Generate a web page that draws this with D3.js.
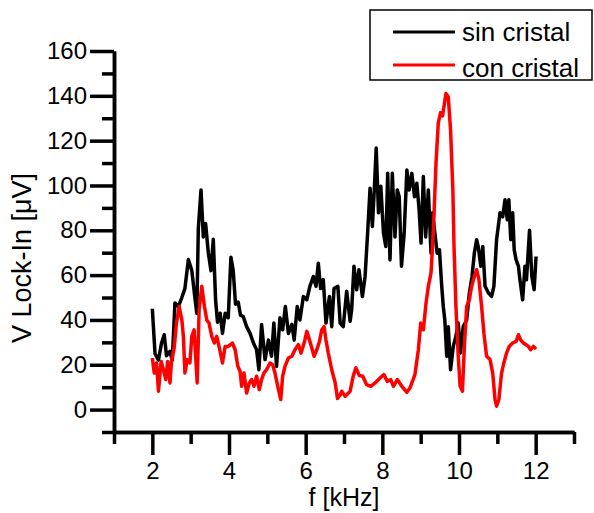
<!DOCTYPE html>
<html>
<head>
<meta charset="utf-8">
<script src="https://cdn.jsdelivr.net/npm/d3@7"></script>
<style>
  html, body { margin: 0; padding: 0; background: #fff; }
  svg { display: block; font-family: "Liberation Sans", Arial, sans-serif; }
</style>
</head>
<body>
<svg id="chart" width="594" height="513"></svg>
<script>
// Lock-in amplitude versus frequency, without and with crystal
const sinF = [2.0,2.07,2.16,2.24,2.31,2.37,2.46,2.52,2.59,2.68,2.77,2.85,2.94,3.03,3.11,3.16,3.2,3.27,3.33,3.39,3.46,3.53,3.59,3.65,3.7,3.77,3.83,3.9,3.98,4.05,4.11,4.17,4.24,4.3,4.37,4.46,4.55,4.64,4.72,4.78,4.85,4.94,5.03,5.11,5.17,5.24,5.33,5.4,5.47,5.55,5.64,5.7,5.78,5.85,5.94,6.03,6.11,6.2,6.27,6.33,6.39,6.46,6.53,6.62,6.68,6.74,6.84,6.9,6.98,7.07,7.16,7.2,7.26,7.33,7.39,7.48,7.55,7.62,7.68,7.74,7.79,7.84,7.9,7.96,8.03,8.09,8.14,8.2,8.26,8.33,8.39,8.44,8.5,8.57,8.64,8.7,8.77,8.84,8.9,8.96,9.01,9.07,9.13,9.2,9.27,9.31,9.37,9.43,9.49,9.55,9.59,9.63,9.68,9.72,9.78,9.85,9.92,9.98,10.04,10.11,10.2,10.27,10.34,10.4,10.46,10.5,10.57,10.62,10.68,10.77,10.85,10.91,10.98,11.07,11.14,11.2,11.26,11.3,11.35,11.4,11.44,11.49,11.55,11.59,11.66,11.72,11.76,11.84,11.9,11.96,12.01];
const sinV = [45,25,22,29.7,33.4,24,26,22,47.6,46,50,54,67,62,50,43,81,98,77,83,70,62,76,49,39,43,34,43,41,68,62,47,48,42,41.6,37,34,29.6,26.7,17.8,38,22.3,31,23.8,38.6,19.3,41,35.6,46,34,38,31,46,40,50.5,49,55,59.4,55,65.3,54,58,38.6,50.5,37,54,55,38.6,37,52.8,39.4,44.6,64,53.5,62.4,50.5,59.4,80,98.8,81.7,98,116.7,87.8,99.7,78.8,72.8,105.4,66.8,105.4,77,98,95,64,78.8,106.9,98,105.4,95,101,89,74.3,104,77,98,69.8,87.8,78.8,69.8,71.3,55,46,40,23.8,37,17.8,28.2,32.7,38.6,25.3,37,40,52,59.4,69.8,75.8,72.8,64,72.8,55,52,50.5,55,75.8,87.8,86,93.6,84.7,93.6,75.8,87.8,71.3,66.8,64,57.9,49,64,57.9,80,59.4,53.5,68.3];

const conF = [2.0,2.05,2.11,2.16,2.23,2.29,2.35,2.4,2.46,2.5,2.57,2.63,2.7,2.77,2.81,2.85,2.91,2.98,3.03,3.09,3.13,3.17,3.22,3.29,3.36,3.42,3.48,3.55,3.62,3.68,3.74,3.83,3.9,3.98,4.09,4.16,4.23,4.29,4.33,4.39,4.46,4.53,4.59,4.65,4.72,4.79,4.85,4.91,4.98,5.07,5.14,5.2,5.29,5.35,5.4,5.46,5.55,5.64,5.72,5.81,5.88,5.96,6.03,6.1,6.16,6.22,6.29,6.36,6.42,6.48,6.53,6.59,6.68,6.77,6.83,6.9,6.94,7.03,7.16,7.24,7.31,7.4,7.49,7.59,7.7,7.81,7.94,8.04,8.13,8.22,8.29,8.39,8.51,8.64,8.72,8.85,8.94,9.0,9.07,9.14,9.2,9.27,9.31,9.35,9.4,9.46,9.52,9.57,9.61,9.66,9.72,9.78,9.84,9.87,9.92,9.98,10.03,10.09,10.14,10.2,10.27,10.33,10.4,10.46,10.52,10.59,10.65,10.72,10.81,10.88,10.94,10.98,11.04,11.11,11.17,11.24,11.31,11.4,11.49,11.55,11.61,11.68,11.75,11.81,11.87,11.94,12.01];
const conV = [23,16.3,20.8,8.2,21.5,17.8,13.4,21.5,11.9,21.5,27.5,38.6,46,40,32.7,16.3,22.3,20.8,32.7,35.6,23.8,11.9,44.6,55,46,40,38.6,32.7,29.7,32.7,28.2,20.8,28.2,28.2,29.7,26.7,19.3,17,10.4,16.3,7.4,11.9,13.4,10.4,14.9,8.9,13.4,16.3,17.8,20.8,20,16.3,8.9,4.5,14.9,19.3,23,23.8,26.7,29,25.2,29.7,34.9,31,27.5,23.8,26.7,30.4,35.6,37,31,25.2,17.8,12,5,6.5,8.2,5.9,8.2,14.9,18.6,15.2,14.9,11.1,10.4,11.9,14.1,15.6,12.6,13.4,10.4,13.4,10.4,7.7,9.6,15.6,26.7,38.6,35.6,47.5,55,61,72.8,87.8,110,128,132.5,131,135.5,141,139.6,124.7,98,72.8,46,23.8,10.4,8.2,28.2,46,49,55,59.4,62.4,58,46,34,23.8,22.3,16.3,4.5,1.5,4.5,16.3,20.8,25.2,28.2,29.7,30.4,33.4,31,29.7,28.9,28.2,26.7,28.2,27];

// Axis ticks
const xMajor = [2, 4, 6, 8, 10, 12];
const xMinor = [1, 3, 5, 7, 9, 11, 13];
const yMajor = [0, 20, 40, 60, 80, 100, 120, 140, 160];
const yMinor = [-10, 10, 30, 50, 70, 90, 110, 130, 150];

const seriesNames = ["sin cristal", "con cristal"];
const seriesColors = ["#000000", "#ff0000"];

const svg = d3.select("#chart");

const x = d3.scaleLinear().domain([1, 13]).range([114, 574]);
const y = d3.scaleLinear().domain([-10, 160]).range([432, 51]);

const axisStroke = 3.5;

function styleAxis(g) {
  g.selectAll("path.domain").attr("stroke", "#000").attr("stroke-width", axisStroke);
  g.selectAll(".tick line").attr("stroke", "#000").attr("stroke-width", axisStroke);
}

// X axis: minor then major ticks
svg.append("g")
  .attr("transform", `translate(0,${y(-10)})`)
  .call(d3.axisBottom(x).tickValues(xMinor).tickSize(12).tickSizeOuter(0).tickFormat(""))
  .call(styleAxis);
const gx = svg.append("g")
  .attr("transform", `translate(0,${y(-10)})`)
  .call(d3.axisBottom(x).tickValues(xMajor).tickSize(23).tickSizeOuter(0).tickPadding(7))
  .call(styleAxis);
gx.selectAll(".tick text")
  .attr("font-size", 24).attr("fill", "#000")
  .attr("font-family", "Liberation Sans, Arial, sans-serif");

// Y axis: minor then major ticks
svg.append("g")
  .attr("transform", `translate(${x(1)},0)`)
  .call(d3.axisLeft(y).tickValues(yMinor).tickSize(12).tickSizeOuter(0).tickFormat(""))
  .call(styleAxis);
const gy = svg.append("g")
  .attr("transform", `translate(${x(1)},0)`)
  .call(d3.axisLeft(y).tickValues(yMajor).tickSize(24).tickSizeOuter(0).tickPadding(3))
  .call(styleAxis);
gy.selectAll(".tick text")
  .attr("font-size", 24).attr("fill", "#000")
  .attr("font-family", "Liberation Sans, Arial, sans-serif");

// Axis titles
svg.append("text")
  .attr("x", 344).attr("y", 506)
  .attr("text-anchor", "middle")
  .attr("font-size", 25)
  .text("f [kHz]");

svg.append("text")
  .attr("transform", "translate(31,258) rotate(-90)")
  .attr("text-anchor", "middle")
  .attr("font-size", 27)
  .text("V Lock-In [\u03BCV]");

// Data lines
const line = d3.line().x(d => x(d[0])).y(d => y(d[1]));
const sinData = sinF.map((f, i) => [f, sinV[i]]);
const conData = conF.map((f, i) => [f, conV[i]]);

svg.append("path")
  .datum(sinData)
  .attr("fill", "none")
  .attr("stroke", seriesColors[0])
  .attr("stroke-width", 3.5)
  .attr("stroke-linejoin", "round")
  .attr("d", line);

svg.append("path")
  .datum(conData)
  .attr("fill", "none")
  .attr("stroke", seriesColors[1])
  .attr("stroke-width", 3.5)
  .attr("stroke-linejoin", "round")
  .attr("d", line);

// Legend
const legend = svg.append("g");
legend.append("rect")
  .attr("x", 370).attr("y", 10)
  .attr("width", 222).attr("height", 70)
  .attr("fill", "#fff").attr("stroke", "#000").attr("stroke-width", 1.5);

const legendRows = [32, 65];
const legendBase = [41, 77];
seriesNames.forEach((name, i) => {
  legend.append("line")
    .attr("x1", 393).attr("x2", 455)
    .attr("y1", legendRows[i]).attr("y2", legendRows[i])
    .attr("stroke", seriesColors[i]).attr("stroke-width", 3);
  legend.append("text")
    .attr("x", 462).attr("y", legendBase[i])
    .attr("font-size", 26)
    .text(name);
});
</script>
</body>
</html>
